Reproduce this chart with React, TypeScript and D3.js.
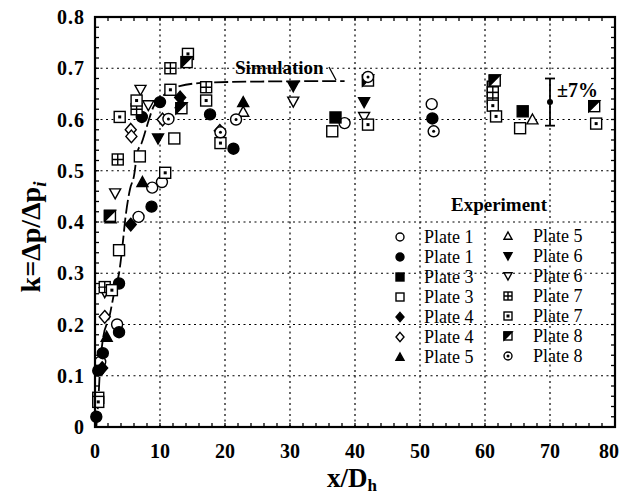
import React from 'react';
import * as d3 from 'd3';

// chart data
const xTicks = [0, 10, 20, 30, 40, 50, 60, 70, 80];
const yTicks = [0, 0.1, 0.2, 0.3, 0.4, 0.5, 0.6, 0.7, 0.8];
const yTickLabels = ['0', '0.1', '0.2', '0.3', '0.4', '0.5', '0.6', '0.7', '0.8'];

const simX = [0.2, 0.5, 0.8, 1.2, 2.3, 3.0, 3.7, 4.2, 4.7, 5.4, 6.0, 6.5, 7.2, 7.7, 8.3, 9.0, 10.0, 11.5, 13, 17.2, 25, 38.4];
const simK = [0.0, 0.05, 0.12, 0.17, 0.22, 0.265, 0.3, 0.35, 0.41, 0.465, 0.49, 0.535, 0.555, 0.575, 0.6, 0.625, 0.64, 0.657, 0.665, 0.672, 0.674, 0.675];

const plate1Open: [number, number][] = [[0.8, 0.127], [3.4, 0.2], [6.7, 0.41], [8.8, 0.467], [10.3, 0.478], [38.4, 0.593], [51.8, 0.63]];
const plate1Filled: [number, number][] = [[0.2, 0.02], [0.5, 0.11], [1.2, 0.144], [3.7, 0.185], [3.7, 0.28], [8.7, 0.43], [7.2, 0.605], [10, 0.634], [17.7, 0.61], [21.3, 0.543], [51.9, 0.602]];
const plate3Filled: [number, number][] = [[37, 0.604], [65.8, 0.616]];
const plate3Open: [number, number][] = [[3.7, 0.345], [6.9, 0.528], [12.2, 0.563], [36.5, 0.577], [65.4, 0.583]];
const plate4Filled: [number, number][] = [[1.1, 0.115], [5.5, 0.395], [13.1, 0.643]];
const plate4Open: [number, number][] = [[1.5, 0.215], [5.5, 0.58], [5.6, 0.567], [10.4, 0.6], [19.2, 0.578]];
const plate5Filled: [number, number][] = [[1.8, 0.176], [7.3, 0.478], [13.2, 0.632], [22.8, 0.634]];
const plate5Open: [number, number][] = [[2.4, 0.407], [22.8, 0.615], [67.3, 0.6]];
const plate6Filled: [number, number][] = [[9.7, 0.563], [30.5, 0.665], [41.4, 0.634]];
const plate6Open: [number, number][] = [[1.5, 0.263], [3.1, 0.456], [7.0, 0.658], [8.2, 0.628], [30.5, 0.635], [41.4, 0.605]];
const plate7Grid: [number, number][] = [[1.5, 0.273], [3.5, 0.522], [6.4, 0.62], [11.6, 0.70], [17.1, 0.663], [61.2, 0.664], [61.2, 0.653], [61.2, 0.642]];
const plate7Dot: [number, number][] = [[0.5, 0.057], [0.5, 0.049], [2.6, 0.267], [3.8, 0.605], [6.4, 0.637], [10.8, 0.496], [11.6, 0.658], [14.3, 0.728], [17.1, 0.637], [19.3, 0.554], [42, 0.59], [61.2, 0.627], [61.7, 0.606], [77.1, 0.592]];
const plate8Cross: [number, number][] = [[2.3, 0.412], [13.3, 0.622], [14.1, 0.712], [42, 0.676], [61.5, 0.676], [76.8, 0.626]];
const plate8Dot: [number, number][] = [[11.3, 0.601], [19.3, 0.575], [21.7, 0.6], [42, 0.683], [52.1, 0.577]];

const errX = 70;
const errMid = 0.634;
const errLo = 0.588;
const errHi = 0.68;

type Kind = 'circle' | 'circleF' | 'square' | 'squareF' | 'diamond' | 'diamondF' | 'tri' | 'triF' | 'inv' | 'invF' | 'grid' | 'sqdot' | 'sqx' | 'cdot';

const series: { kind: Kind; label: string; data: [number, number][] }[] = [
  { kind: 'circle', label: 'Plate 1', data: plate1Open },
  { kind: 'circleF', label: 'Plate 1', data: plate1Filled },
  { kind: 'squareF', label: 'Plate 3', data: plate3Filled },
  { kind: 'square', label: 'Plate 3', data: plate3Open },
  { kind: 'diamondF', label: 'Plate 4', data: plate4Filled },
  { kind: 'diamond', label: 'Plate 4', data: plate4Open },
  { kind: 'triF', label: 'Plate 5', data: plate5Filled },
  { kind: 'tri', label: 'Plate 5', data: plate5Open },
  { kind: 'invF', label: 'Plate 6', data: plate6Filled },
  { kind: 'inv', label: 'Plate 6', data: plate6Open },
  { kind: 'grid', label: 'Plate 7', data: plate7Grid },
  { kind: 'sqdot', label: 'Plate 7', data: plate7Dot },
  { kind: 'sqx', label: 'Plate 8', data: plate8Cross },
  { kind: 'cdot', label: 'Plate 8', data: plate8Dot },
];

const FONT = '"Liberation Serif", "Times New Roman", serif';

const Marker = ({ kind, x, y, s }: { kind: Kind; x: number; y: number; s: number }) => {
  const h = s / 2;
  const sw = 1.4;
  const common = { stroke: '#000', strokeWidth: sw };
  switch (kind) {
    case 'circle':
      return <circle cx={x} cy={y} r={h} fill="#fff" {...common} />;
    case 'circleF':
      return <circle cx={x} cy={y} r={h} fill="#000" {...common} />;
    case 'square':
      return <rect x={x - h} y={y - h} width={s} height={s} fill="#fff" {...common} />;
    case 'squareF':
      return <rect x={x - h} y={y - h} width={s} height={s} fill="#000" {...common} />;
    case 'diamond':
    case 'diamondF':
      return <path d={`M${x},${y - h * 1.15}L${x + h},${y}L${x},${y + h * 1.15}L${x - h},${y}Z`} fill={kind === 'diamondF' ? '#000' : '#fff'} {...common} />;
    case 'tri':
    case 'triF':
      return <path d={`M${x},${y - h}L${x + h},${y + h * 0.8}L${x - h},${y + h * 0.8}Z`} fill={kind === 'triF' ? '#000' : '#fff'} {...common} />;
    case 'inv':
    case 'invF':
      return <path d={`M${x},${y + h}L${x + h},${y - h * 0.8}L${x - h},${y - h * 0.8}Z`} fill={kind === 'invF' ? '#000' : '#fff'} {...common} />;
    case 'grid':
      return (
        <g>
          <rect x={x - h} y={y - h} width={s} height={s} fill="#fff" {...common} />
          <path d={`M${x - h},${y}H${x + h}M${x},${y - h}V${y + h}`} {...common} />
        </g>
      );
    case 'sqdot':
      return (
        <g>
          <rect x={x - h} y={y - h} width={s} height={s} fill="#fff" {...common} />
          <rect x={x - 1.5} y={y - 1.5} width={3} height={3} fill="#000" />
        </g>
      );
    case 'sqx':
      return (
        <g>
          <rect x={x - h} y={y - h} width={s} height={s} fill="#fff" {...common} />
          <path d={`M${x - h},${y - h}L${x + h},${y - h}L${x - h},${y + h}Z`} fill="#000" {...common} />
        </g>
      );
    case 'cdot':
      return (
        <g>
          <circle cx={x} cy={y} r={h} fill="#fff" {...common} />
          <circle cx={x} cy={y} r={1.5} fill="#000" />
        </g>
      );
  }
  return null;
};

export default function App() {
  const W = 621;
  const H = 495;
  const x = d3.scaleLinear().domain([0, 80]).range([95, 615]);
  const y = d3.scaleLinear().domain([0, 0.8]).range([427, 17]);

  const simLine = d3.line<number>()
    .x((_, i) => x(simX[i]))
    .y((_, i) => y(simK[i]))
    .curve(d3.curveMonotoneX);

  const xMinor = d3.range(0, 80.01, 2);
  const yMinor = d3.range(0, 0.801, 0.02);

  const legendLeft = series.slice(0, 7);
  const legendRight = series.slice(7);

  return (
    <div style={{ position: 'fixed', left: 0, top: 0 }}>
      <svg width={W} height={H} style={{ display: 'block', background: '#fff' }} fontFamily={FONT}>
        {/* grid */}
        <g stroke="#000" strokeWidth={1.2} strokeDasharray="2,3.5">
          {xTicks.slice(1, -1).map((t) => (
            <line key={'gx' + t} x1={x(t)} x2={x(t)} y1={y(0)} y2={y(0.8)} />
          ))}
          {yTicks.slice(1, -1).map((t) => (
            <line key={'gy' + t} x1={x(0)} x2={x(80)} y1={y(t)} y2={y(t)} />
          ))}
        </g>

        {/* minor ticks */}
        <g stroke="#000" strokeWidth={1.3}>
          {xMinor.map((t) => (
            <g key={'tx' + t}>
              <line x1={x(t)} x2={x(t)} y1={y(0)} y2={y(0) - 4} />
              <line x1={x(t)} x2={x(t)} y1={y(0.8)} y2={y(0.8) + 4} />
            </g>
          ))}
          {yMinor.map((t) => (
            <g key={'ty' + t}>
              <line x1={x(0)} x2={x(0) + 4} y1={y(t)} y2={y(t)} />
              <line x1={x(80)} x2={x(80) - 4} y1={y(t)} y2={y(t)} />
            </g>
          ))}
        </g>

        {/* simulation curve */}
        <path d={simLine(simX) || ''} fill="none" stroke="#000" strokeWidth={1.8} strokeDasharray="14,4" />
        <text x={235} y={74} fontSize={19} fontWeight="bold">Simulation</text>
        <path d={`M329,67L336,${y(0.675) - 1}`} fill="none" stroke="#000" strokeWidth={1.3} />

        {/* data */}
        {series.map((s, si) => (
          <g key={'s' + si}>
            {s.data.map((d, i) => (
              <Marker key={i} kind={s.kind} x={x(d[0])} y={y(d[1])} s={11} />
            ))}
          </g>
        ))}

        {/* error bar */}
        <g stroke="#000" strokeWidth={1.8}>
          <line x1={x(errX)} x2={x(errX)} y1={y(errLo)} y2={y(errHi)} />
          <line x1={x(errX) - 5} x2={x(errX) + 5} y1={y(errLo)} y2={y(errLo)} />
          <line x1={x(errX) - 5} x2={x(errX) + 5} y1={y(errHi)} y2={y(errHi)} />
        </g>
        <circle cx={x(errX)} cy={y(errMid)} r={3} fill="#000" />
        <text x={x(errX) + 7} y={y(errMid) - 5} fontSize={20} fontWeight="bold">±7%</text>

        {/* legend */}
        <text x={499} y={211} fontSize={19} fontWeight="bold" textAnchor="middle">Experiment</text>
        {legendLeft.map((s, i) => (
          <g key={'ll' + i}>
            <Marker kind={s.kind} x={400} y={237 + i * 20} s={8} />
            <text x={424} y={243 + i * 20} fontSize={18}>{s.label}</text>
          </g>
        ))}
        {legendRight.map((s, i) => (
          <g key={'lr' + i}>
            <Marker kind={s.kind} x={508} y={236 + i * 20} s={8} />
            <text x={533} y={242 + i * 20} fontSize={18}>{s.label}</text>
          </g>
        ))}

        {/* frame */}
        <rect x={x(0)} y={y(0.8)} width={x(80) - x(0)} height={y(0) - y(0.8)} fill="none" stroke="#000" strokeWidth={2.2} />

        {/* tick labels */}
        {xTicks.map((t, i) => (
          <text key={'lx' + t} x={i === xTicks.length - 1 ? 619 : x(t)} y={458} fontSize={20} fontWeight="bold" textAnchor={i === xTicks.length - 1 ? 'end' : 'middle'}>{t}</text>
        ))}
        {yTicks.map((t, i) => (
          <text key={'ly' + t} x={85} y={y(t) + 7} fontSize={20} fontWeight="bold" textAnchor="end" letterSpacing={1}>{yTickLabels[i]}</text>
        ))}

        {/* axis titles */}
        <text x={352} y={487} fontSize={27} fontWeight="bold" textAnchor="middle">
          x/D<tspan fontSize={17} dy={4}>h</tspan>
        </text>
        <text transform="translate(40,237) rotate(-90)" fontSize={28} fontWeight="bold" textAnchor="middle">
          k=Δp/Δp<tspan fontSize={19} fontStyle="italic" dy={6}>i</tspan>
        </text>
      </svg>
    </div>
  );
}
